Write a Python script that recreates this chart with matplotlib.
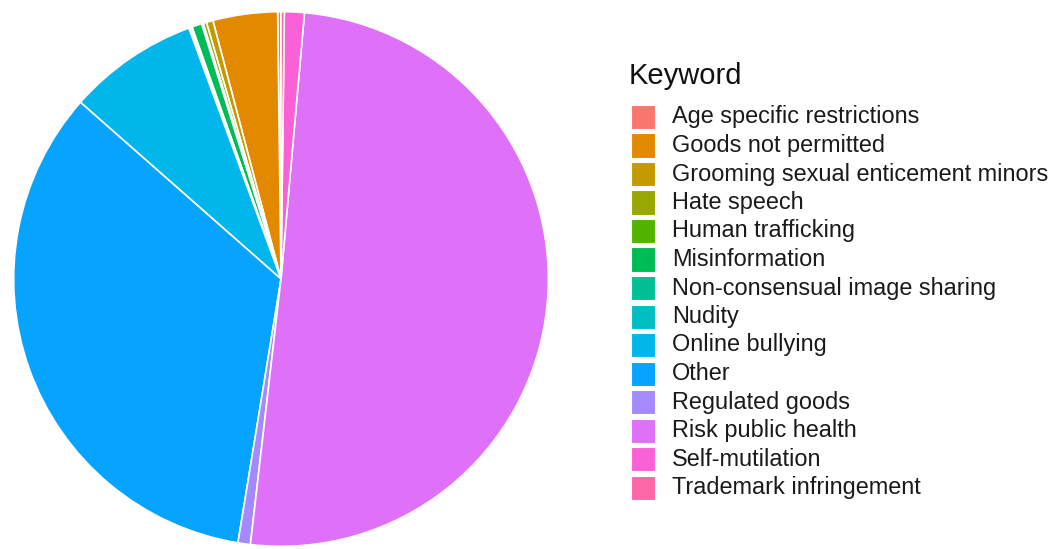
import matplotlib as mpl
mpl.use('Agg')
import matplotlib.pyplot as plt
from matplotlib.patches import Rectangle

plt.rcParams['font.family'] = ['Liberation Sans', 'DejaVu Sans']

# share of flagged items per keyword (%)
keywords = ['Age specific restrictions', 'Goods not permitted',
            'Grooming sexual enticement minors', 'Hate speech',
            'Human trafficking', 'Misinformation',
            'Non-consensual image sharing', 'Nudity', 'Online bullying',
            'Other', 'Regulated goods', 'Risk public health',
            'Self-mutilation', 'Trademark infringement']
shares = [0.2, 3.9, 0.4, 0.2, 0.1, 0.6, 0.1, 0.1, 7.9, 33.9, 0.75, 50.4, 1.2, 0.2]
# ggplot default hue palette, 14 levels
palette = ['#F8766D', '#E38900', '#C49A00', '#99A800', '#53B400', '#00BC56',
           '#00C094', '#00BFC4', '#00B6EB', '#06A4FF', '#A58AFF', '#DF70F8',
           '#FB61D7', '#FF66A8']

fig = plt.figure(figsize=(10.56, 5.49), dpi=100)

ax = fig.add_axes([11/1056, 0.0, 540/1056, 540/549])
ax.pie(shares, colors=palette, startangle=90, counterclock=True,
       wedgeprops=dict(edgecolor='white', linewidth=1.2))
ax.set_aspect('equal')
ax.set_xlim(-1.01, 1.01)
ax.set_ylim(-1.01, 1.01)
ax.axis('off')

# legend drawn by hand, pixel layout
W, H = 1056, 549
fig.text(629/W, 1 - 76/H, 'Keyword', fontsize=21, va='center', ha='left',
         color='#111111')
y0 = 117
step = 28.5
for i, (lab, col) in enumerate(zip(keywords, palette)):
    yc = y0 + i * step
    fig.patches.append(Rectangle((631/W, 1 - (yc + 12)/H), 24/W, 24/H,
                                 transform=fig.transFigure, facecolor=col,
                                 edgecolor='white', linewidth=0.8))
    fig.text(672/W, 1 - yc/H, lab, fontsize=16.9, va='center', ha='left',
             color='#1a1a1a')

plt.savefig('out.png', dpi=100)
plt.close()
